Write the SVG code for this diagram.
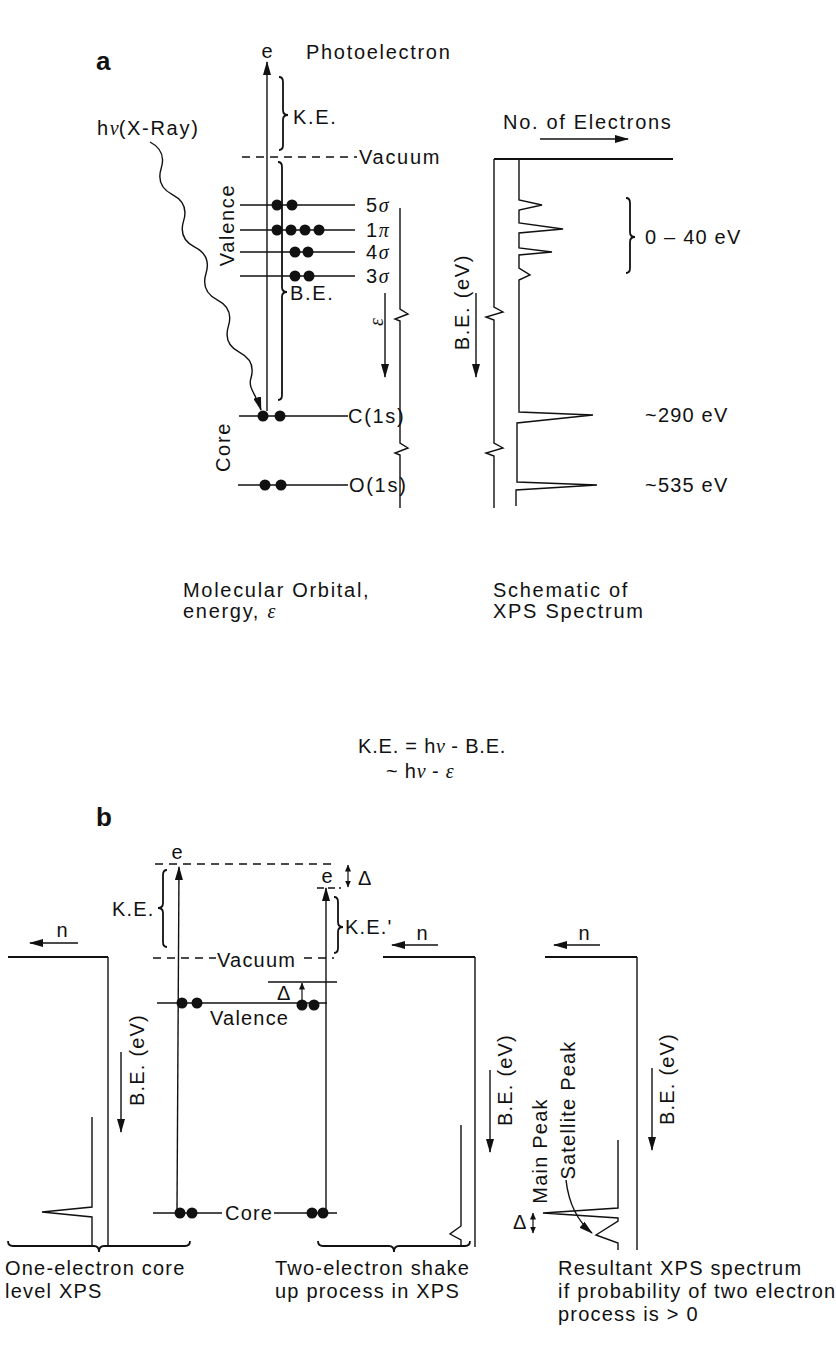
<svg xmlns="http://www.w3.org/2000/svg" width="836" height="1358" viewBox="0 0 836 1358">
<defs>
<style>
text{font-family:"Liberation Sans",Arial,Helvetica,sans-serif;font-size:20px;letter-spacing:1.7px;fill:#111}
.g{font-family:"Liberation Serif","Times New Roman",serif;font-style:italic;letter-spacing:0}
.big{font-weight:bold;font-size:26px;letter-spacing:0}
.cap{letter-spacing:1.2px}
.fm{letter-spacing:0.8px}
.ln{stroke:#111;stroke-width:1.4;fill:none}
.thk{stroke:#111;stroke-width:2;fill:none}
.dsh{stroke:#111;stroke-width:1.4;fill:none;stroke-dasharray:8 6}
.br{stroke:#111;stroke-width:1.8;fill:none}
.dot{fill:#111}
.arr{stroke:#111;stroke-width:1.4;fill:none;marker-end:url(#ah)}
.arr2{stroke:#111;stroke-width:1.2;fill:none;marker-start:url(#as);marker-end:url(#as)}
.arr1{stroke:#111;stroke-width:1.2;fill:none;marker-end:url(#as)}
</style>
<marker id="ah" viewBox="0 0 14 8" refX="13" refY="4" markerWidth="14" markerHeight="8" orient="auto" markerUnits="userSpaceOnUse"><path d="M0,0 L14,4 L0,8 z" fill="#111"/></marker>
<marker id="as" viewBox="0 0 7 6" refX="6.5" refY="3" markerWidth="7" markerHeight="6" orient="auto-start-reverse" markerUnits="userSpaceOnUse"><path d="M0,0 L7,3 L0,6 z" fill="#111"/></marker>
</defs>
<rect width="836" height="1358" fill="#fff"/>

<!-- ================= PANEL A ================= -->
<g id="label-a"><text class="big" x="96" y="70">a</text></g>

<g id="mo-diagram">
  <text x="268" y="58" text-anchor="middle">e</text>
  <text x="306" y="59">Photoelectron</text>
  <g id="ke-a"><path class="br" d="M279,77 Q283,77 283,82 L283,110 Q283,115 288,115 Q283,115 283,120 L283,145 Q283,150 279,150"/><text x="293" y="124">K.E.</text></g>
  <g id="vacuum-a"><line class="dsh" x1="242" y1="157" x2="357" y2="157"/><text x="359" y="164">Vacuum</text></g>
  <g id="be-a"><path class="br" d="M278,162 Q282,162 282,167 L282,287 Q282,292 287,292 Q282,292 282,297 L282,395 Q282,400 278,400"/><text x="290" y="300">B.E.</text></g>
  <g id="orb-5s"><line class="ln" x1="240" y1="205" x2="355" y2="205"/><circle class="dot" cx="277" cy="205" r="5.5"/><circle class="dot" cx="292" cy="205" r="5.5"/><text x="366" y="212">5<tspan class="g">σ</tspan></text></g>
  <g id="orb-1p"><line class="ln" x1="240" y1="230" x2="355" y2="230"/><circle class="dot" cx="277" cy="230" r="5.5"/><circle class="dot" cx="291" cy="230" r="5.5"/><circle class="dot" cx="305" cy="230" r="5.5"/><circle class="dot" cx="319" cy="230" r="5.5"/><text x="366" y="237">1<tspan class="g">π</tspan></text></g>
  <g id="orb-4s"><line class="ln" x1="240" y1="252" x2="355" y2="252"/><circle class="dot" cx="295" cy="252" r="5.5"/><circle class="dot" cx="308" cy="252" r="5.5"/><text x="366" y="259">4<tspan class="g">σ</tspan></text></g>
  <g id="orb-3s"><line class="ln" x1="240" y1="276" x2="355" y2="276"/><circle class="dot" cx="295" cy="276" r="5.5"/><circle class="dot" cx="309" cy="276" r="5.5"/><text x="366" y="283">3<tspan class="g">σ</tspan></text></g>
  <text transform="translate(234,225) rotate(-90)" text-anchor="middle">Valence</text>
  <g id="orb-c1s"><line class="ln" x1="239" y1="416" x2="348" y2="416"/><circle class="dot" cx="263" cy="416" r="5.5"/><circle class="dot" cx="280" cy="416" r="5.5"/><text x="348" y="423">C(1s)</text></g>
  <g id="orb-o1s"><line class="ln" x1="238" y1="485" x2="348" y2="485"/><circle class="dot" cx="265" cy="485" r="5.5"/><circle class="dot" cx="281" cy="485" r="5.5"/><text x="349" y="492">O(1s)</text></g>
  <text transform="translate(230,447) rotate(-90)" text-anchor="middle">Core</text>
  <g id="energy-axis"><path class="ln" d="M400,208 L400,309 L408,314 L395,319 L400,321 L400,443 L408,448 L395,453 L400,455 L400,508"/>
  <text class="g" transform="translate(383,322) rotate(-90)" text-anchor="middle">ε</text></g>
  <text x="97" y="135">h<tspan class="g">ν</tspan>(X-Ray)</text>
</g>

<g id="spectrum-a">
  <text x="503" y="129">No. of Electrons</text>
  <line class="thk" x1="494" y1="159" x2="673" y2="159"/>
  <path class="ln" d="M494,159 L494,307 L503,312 L486,317 L494,320 L494,443 L503,448 L486,453 L494,456 L494,508"/>
  <path class="ln" d="M519,159 L519,200 L542,205 L519,210 L519,223 L563,229 L519,233 L519,248 L552,252 L519,255 L519,268 L530,275 L519,280 L519,412 L593,415 L517,423 L517,482 L597,485 L516,490 L516,506"/>
  <text transform="translate(469,302) rotate(-90)" text-anchor="middle">B.E. (eV)</text>
  <path class="br" d="M626,198 Q630,198 630,203 L630,232 Q630,237 635,237 Q630,237 630,242 L630,268 Q630,273 626,273"/>
  <text x="645" y="244" class="cap">0 – 40 eV</text>
  <text x="645" y="422" class="cap">~290 eV</text>
  <text x="645" y="492" class="cap">~535 eV</text>
</g>

<g id="captions-a">
  <text x="183" y="597">Molecular Orbital,</text>
  <text x="183" y="618">energy, <tspan class="g">ε</tspan></text>
  <text x="493" y="597">Schematic of</text>
  <text x="493" y="618">XPS Spectrum</text>
</g>

<g id="formula">
  <text class="fm" x="358" y="753">K.E. = h<tspan class="g">ν</tspan> - B.E.</text>
  <text class="fm" x="386" y="778">~ h<tspan class="g">ν</tspan> - <tspan class="g">ε</tspan></text>
</g>

<!-- ================= PANEL B ================= -->
<g id="label-b"><text class="big" x="96" y="826">b</text></g>

<g id="levels-b">
  <text x="178" y="859" text-anchor="middle">e</text>
  <line class="dsh" x1="155" y1="864" x2="333" y2="864"/>
  <path class="br" d="M167,870 Q163,870 163,875 L163,903 Q163,908 158,908 Q163,908 163,913 L163,942 Q163,947 167,947"/>
  <text x="112" y="916" class="cap">K.E.</text>
  <line class="dsh" x1="153" y1="958" x2="216" y2="958"/>
  <line class="dsh" x1="304" y1="958" x2="334" y2="958"/>
  <text x="217" y="967" class="cap">Vacuum</text>
  <text x="328" y="883" text-anchor="middle">e</text>
  <line class="ln" x1="317" y1="888" x2="341" y2="888" stroke-dasharray="7 4"/>
  <text x="358" y="885">Δ</text>
  <path class="br" d="M334,897 Q338,897 338,902 L338,922 Q338,927 343,927 Q338,927 338,932 L338,948 Q338,953 334,953"/>
  <text x="345" y="934" class="cap">K.E.'</text>
  <line class="ln" x1="268" y1="982" x2="337" y2="982"/>
  <text x="277" y="1000">Δ</text>
  <g id="valence-b"><line class="ln" x1="157" y1="1003" x2="327" y2="1003"/><circle class="dot" cx="182" cy="1003" r="5.5"/><circle class="dot" cx="197" cy="1003" r="5.5"/><circle class="dot" cx="302" cy="1005" r="5.5"/><circle class="dot" cx="314" cy="1005" r="5.5"/><text x="210" y="1025" class="cap">Valence</text></g>
  <g id="core-b"><line class="ln" x1="153" y1="1213" x2="222" y2="1213"/><line class="ln" x1="274" y1="1213" x2="337" y2="1213"/><circle class="dot" cx="180" cy="1213" r="5.5"/><circle class="dot" cx="192" cy="1213" r="5.5"/><circle class="dot" cx="312" cy="1213" r="5.5"/><circle class="dot" cx="323" cy="1213" r="5.5"/><text x="225" y="1220" class="cap">Core</text></g>
</g>

<g id="spectrum-b1">
  <text x="63" y="937" text-anchor="middle">n</text>
  <line class="thk" x1="8" y1="957" x2="108" y2="957"/>
  <line class="ln" x1="108" y1="957" x2="108" y2="1247"/>
  <path class="ln" d="M92,1117 L92,1207 L42,1212 L92,1217 L92,1247"/>
  <text class="cap" transform="translate(144,1060) rotate(-90)" text-anchor="middle">B.E. (eV)</text>
</g>

<g id="spectrum-b2">
  <text x="423" y="940" text-anchor="middle">n</text>
  <line class="thk" x1="383" y1="957" x2="475" y2="957"/>
  <line class="ln" x1="475" y1="957" x2="475" y2="1247"/>
  <path class="ln" d="M461,1125 L461,1226 L450,1234 L461,1240 L461,1247"/>
  <text class="cap" transform="translate(512,1080) rotate(-90)" text-anchor="middle">B.E. (eV)</text>
</g>

<g id="spectrum-b3">
  <text x="585" y="940" text-anchor="middle">n</text>
  <line class="thk" x1="545" y1="957" x2="637" y2="957"/>
  <line class="ln" x1="637" y1="957" x2="637" y2="1250"/>
  <path class="ln" d="M618,1140 L618,1208 L543,1213 L618,1218 L618,1221 L596,1235 L618,1243 L618,1250"/>
  <text class="cap" transform="translate(674,1079) rotate(-90)" text-anchor="middle">B.E. (eV)</text>
  <text class="cap" transform="translate(547,1151) rotate(-90)" text-anchor="middle">Main Peak</text>
  <text class="cap" transform="translate(575,1110) rotate(-90)" text-anchor="middle">Satellite Peak</text>
  <text x="513" y="1229">Δ</text>
</g>

<g id="captions-b">
  <path class="br" d="M8,1241 Q8,1246 13,1246 L94,1246 Q99,1246 99,1252 Q99,1246 104,1246 L185,1246 Q190,1246 190,1241"/>
  <path class="br" d="M318,1241 Q318,1246 323,1246 L389,1246 Q394,1246 394,1252 Q394,1246 399,1246 L465,1246 Q470,1246 470,1241"/>
  <text class="cap" x="5" y="1275">One-electron core</text>
  <text class="cap" x="5" y="1298">level XPS</text>
  <text class="cap" x="275" y="1275">Two-electron shake</text>
  <text class="cap" x="275" y="1298">up process in XPS</text>
  <text class="cap" x="558" y="1275">Resultant XPS spectrum</text>
  <text class="cap" x="558" y="1298">if probability of two electron</text>
  <text class="cap" x="558" y="1321">process is &gt; 0</text>
</g>

<!-- ================= CONNECTORS ================= -->
<g id="connectors">
  <line class="arr" x1="267" y1="411" x2="267" y2="62"/>
  <path class="arr" d="M150,142 C161.1,147.7 164.9,156.4 161.2,168.3 C157.5,180.2 161.3,188.9 172.4,194.6 C183.5,200.3 187.3,209 183.6,220.9 C179.9,232.8 183.7,241.5 194.8,247.2 C205.9,252.9 209.7,261.6 206,273.5 C202.3,285.4 206.1,294.1 217.2,299.8 C228.3,305.5 232.1,314.2 228.4,326.1 C224.7,338 228.5,346.7 239.6,352.4 C250.7,358.1 254.5,366.8 250.8,378.7 C248,388 256,394 261,410"/>
  <line class="arr" x1="385" y1="293" x2="385" y2="377"/>
  <line class="arr" x1="540" y1="139" x2="628" y2="139"/>
  <line class="arr" x1="476" y1="293" x2="476" y2="377"/>
  <line class="arr" x1="177" y1="1211" x2="179" y2="867"/>
  <line class="arr" x1="326" y1="1211" x2="326" y2="888"/>
  <line class="arr2" x1="348" y1="865" x2="348" y2="887"/>
  <line class="arr1" x1="302" y1="1000" x2="302" y2="983"/>
  <line class="arr" x1="78" y1="943" x2="30" y2="943"/>
  <line class="arr" x1="121" y1="1052" x2="121" y2="1132"/>
  <line class="arr" x1="438" y1="945" x2="392" y2="945"/>
  <line class="arr" x1="490" y1="1070" x2="490" y2="1152"/>
  <line class="arr" x1="600" y1="945" x2="554" y2="945"/>
  <line class="arr" x1="652" y1="1068" x2="652" y2="1150"/>
  <path class="arr" d="M566,1180 Q570,1215 592,1233"/>
  <line class="arr2" x1="533" y1="1213" x2="533" y2="1233"/>
</g>
</svg>
